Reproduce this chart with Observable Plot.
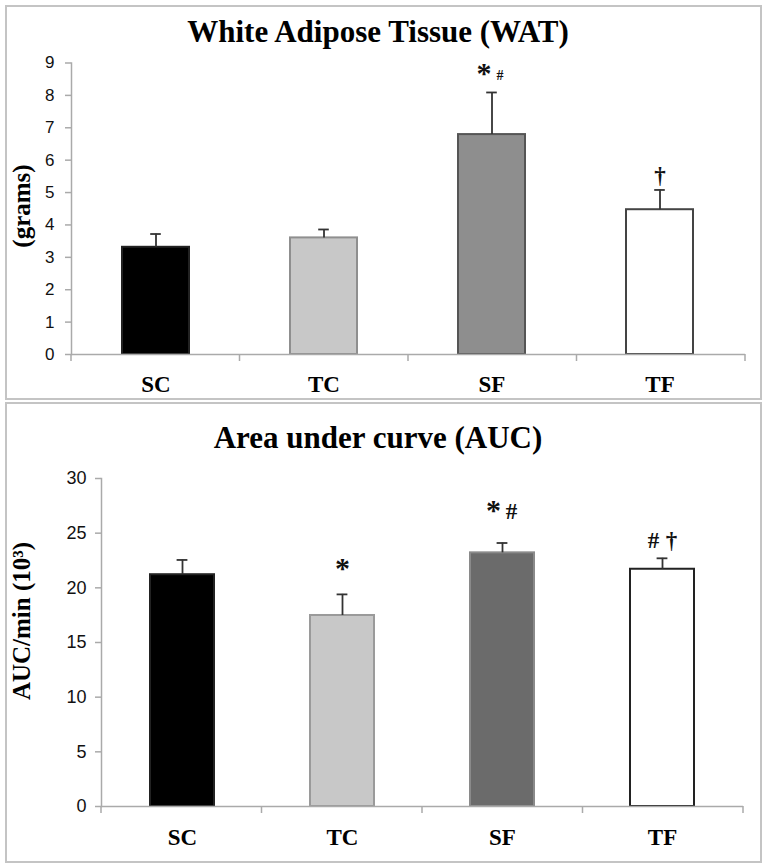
<!DOCTYPE html>
<html><head><meta charset="utf-8">
<script src="https://cdn.jsdelivr.net/npm/d3@7"></script>
<script src="https://cdn.jsdelivr.net/npm/@observablehq/plot@0.6"></script>
<style>
body{margin:0;background:#fff;}
#wrap{position:relative;width:766px;height:867px;overflow:hidden;background:#fff;}
.panel{position:absolute;left:5px;width:757px;border:2px solid #c4c4c4;box-sizing:border-box;z-index:3;pointer-events:none;}
.title{position:absolute;left:0;width:756px;text-align:center;font:bold 31px "Liberation Serif",serif;line-height:30px;z-index:4;}
.ylab{position:absolute;font:bold 25px "Liberation Serif",serif;transform:translate(-50%,-50%) rotate(-90deg);white-space:nowrap;z-index:4;}
.chart{position:absolute;left:0;}
</style></head><body><div id="wrap"></div>
<script>
// ---- data ----
const categories = ["SC", "TC", "SF", "TF"];

const watTitle = "White Adipose Tissue (WAT)";
const watYLabel = "(grams)";
const watTicks = [0, 1, 2, 3, 4, 5, 6, 7, 8, 9];
const watMean = [3.31, 3.60, 6.79, 4.47];
const watUpper = [3.72, 3.86, 8.09, 5.08];
const watNotes = ["", "", "*#", "†"];
const watNoteY = [null, null, 8.7, 5.6];
const watFill = ["#000000", "#c8c8c8", "#8e8e8e", "#ffffff"];
const watStroke = ["#222222", "#8f8f8f", "#555555", "#444444"];

const aucTitle = "Area under curve (AUC)";
const aucYLabel = "AUC/min (10³)";
const aucTicks = [0, 5, 10, 15, 20, 25, 30];
const aucMean = [21.2, 17.47, 23.2, 21.7];
const aucUpper = [22.55, 19.4, 24.1, 22.7];
const aucNotes = ["", "*", "*#", "#†"];
const aucNoteY = [null, 21.9, 27.2, 24.6];
const aucFill = ["#000000", "#c8c8c8", "#6b6b6b", "#ffffff"];
const aucStroke = ["#222222", "#9a9a9a", "#8a8a8a", "#222222"];

// ---- helpers ----
const wrap = document.getElementById("wrap");

function addDiv(cls, text, css) {
  const d = document.createElement("div");
  d.className = cls;
  if (text) d.textContent = text;
  Object.assign(d.style, css);
  wrap.appendChild(d);
  return d;
}

function makeChart(cfg) {
  const rows = categories.map((c, i) => ({
    cat: c, mean: cfg.mean[i], upper: cfg.upper[i],
    fill: cfg.fill[i], stroke: cfg.stroke[i]
  }));
  const notes = [];
  categories.forEach((c, i) => {
    const s = cfg.notes[i];
    if (!s) return;
    const chars = Array.from(s);
    chars.forEach((ch, k) => notes.push({
      cat: c, ch, y: cfg.noteY[i],
      slot: chars.length === 1 ? 0 : (k === 0 ? -1 : 1),
      small: cfg.smallHash && ch === "#"
    }));
  });
  const innerW = cfg.width - cfg.marginLeft - cfg.marginRight;
  const bw = innerW / categories.length * (1 - 0.6);
  const capInset = (bw - 11) / 2;

  function separators(index, scales, values, dims) {
    const n = categories.length;
    const step = (dims.width - dims.marginLeft - dims.marginRight) / n;
    const y0 = scales.y(0);
    const g = d3.create("svg:g").attr("stroke", "#aaaaaa").attr("stroke-width", 1.5);
    d3.range(n + 1).forEach(i => {
      const xx = dims.marginLeft + i * step;
      g.append("line").attr("x1", xx).attr("x2", xx).attr("y1", y0).attr("y2", y0 + 7);
    });
    return g.node();
  }

  const noteMarks = [];
  [-1, 0, 1].forEach(slot => {
    const base = {x: "cat", y: "y", text: "ch", fontWeight: "bold", fontFamily: "'Liberation Serif',serif", fill: "#111"};
    const stars = notes.filter(d => d.slot === slot && d.ch === "*");
    const smalls = notes.filter(d => d.slot === slot && d.small);
    const others = notes.filter(d => d.slot === slot && d.ch !== "*" && !d.small);
    noteMarks.push(
      Plot.text(stars, {...base, dx: slot * cfg.noteGap, dy: 1, fontSize: 30}),
      Plot.text(smalls, {...base, dx: slot * cfg.noteGap, dy: 3, fontSize: 14}),
      Plot.text(others, {...base, dx: slot * cfg.noteGap, dy: 3, fontSize: 23})
    );
  });

  const svg = Plot.plot({
    width: cfg.width,
    height: cfg.height,
    marginTop: cfg.marginTop,
    marginBottom: cfg.marginBottom,
    marginLeft: cfg.marginLeft,
    marginRight: cfg.marginRight,
    style: {background: "transparent", overflow: "visible"},
    x: {domain: categories, paddingInner: 0.6, paddingOuter: 0.3, label: null},
    y: {domain: [cfg.ticks[0], cfg.ticks[cfg.ticks.length - 1]], label: null},
    marks: [
      Plot.barY(rows, {x: "cat", y: "mean", fill: "fill", stroke: "stroke", strokeWidth: 2}),
      Plot.ruleX(rows, {x: "cat", y1: "mean", y2: "upper", stroke: "#333333", strokeWidth: 1.8}),
      Plot.tickY(rows, {x: "cat", y: "upper", stroke: "#333333", strokeWidth: 1.8, insetLeft: capInset, insetRight: capInset}),
      Plot.ruleY([0], {stroke: "#aaaaaa", strokeWidth: 1.5}),
      Plot.frame({anchor: "left", stroke: "#aaaaaa", strokeWidth: 1.5}),
      separators,
      Plot.axisY({ticks: cfg.ticks, tickSize: 6, tickPadding: cfg.tickPad, stroke: "#aaaaaa", strokeWidth: 1.5,
        fill: "#111", fontSize: cfg.tickFont, fontFamily: "'Liberation Sans Narrow','Liberation Sans',sans-serif", label: null}),
      Plot.axisX({tickSize: 0, tickPadding: cfg.xPad, fontSize: 23, fontWeight: "bold",
        fontFamily: "'Liberation Serif',serif", fill: "#000", label: null}),
      ...noteMarks
    ]
  });
  svg.classList.add("chart");
  svg.style.top = cfg.top + "px";
  svg.style.position = "absolute";
  wrap.appendChild(svg);
}

// panels
addDiv("panel", "", {top: "5px", height: "395px"});
addDiv("panel", "", {top: "402px", height: "461px"});

// titles & y labels
addDiv("title", watTitle, {top: "17px"});
addDiv("title", aucTitle, {top: "423px"});
addDiv("ylab", watYLabel, {left: "22px", top: "206px"});
addDiv("ylab", aucYLabel, {left: "22px", top: "621px"});

makeChart({
  top: 0, width: 766, height: 400,
  marginTop: 62.5, marginBottom: 46, marginLeft: 71, marginRight: 21,
  ticks: watTicks, mean: watMean, upper: watUpper, notes: watNotes, noteY: watNoteY,
  fill: watFill, stroke: watStroke, tickPad: 11, tickFont: 17, xPad: 21, noteGap: 8, smallHash: true
});
makeChart({
  top: 400, width: 766, height: 467,
  marginTop: 78, marginBottom: 61, marginLeft: 101, marginRight: 23,
  ticks: aucTicks, mean: aucMean, upper: aucUpper, notes: aucNotes, noteY: aucNoteY,
  fill: aucFill, stroke: aucStroke, tickPad: 9, tickFont: 18, xPad: 22, noteGap: 9, smallHash: false
});
</script></body></html>
